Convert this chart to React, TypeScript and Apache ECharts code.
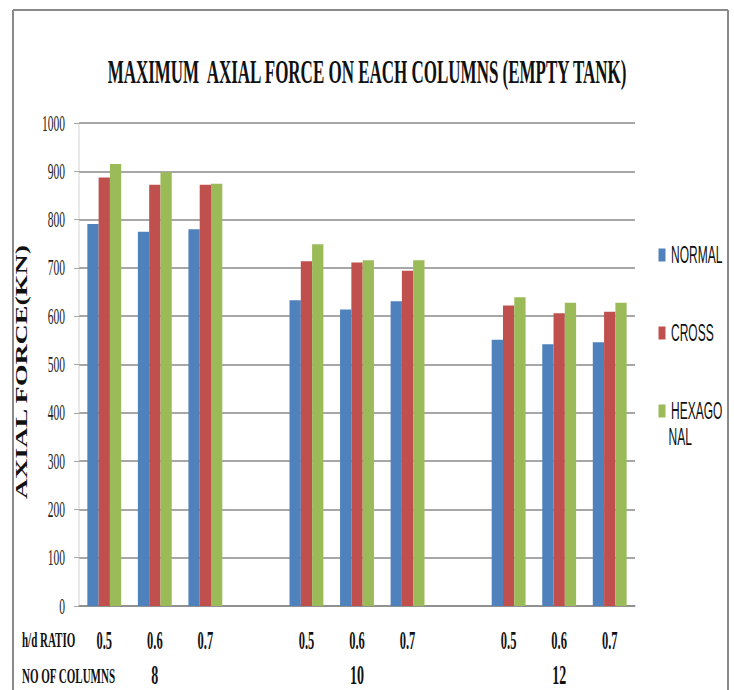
import React, { useEffect, useRef } from "react";
import * as echarts from "echarts";

// ---- data ----
const ratioLabels = ["0.5", "0.6", "0.7"];
const columnCounts = ["8", "10", "12"];
const normal = [791, 775, 780, 633, 614, 631, 551, 542, 546];
const cross = [887, 872, 872, 714, 711, 694, 622, 606, 609];
const hexagonal = [915, 898, 874, 749, 716, 716, 639, 628, 628];
const yTicks = { min: 0, max: 1000, step: 100 };

// The reference uses tall, condensed lettering: draw at double width and squeeze.
const S = 0.5;
const W = 734;
const H = 690;
const IW = W / S;
const X = (v: number) => v / S;

function withGaps<T>(values: T[], gap: T): T[] {
  const out: T[] = [];
  for (let g = 0; g < 3; g++) {
    out.push(...values.slice(g * 3, g * 3 + 3));
    if (g < 2) out.push(gap);
  }
  return out;
}

const slotRatio = withGaps(
  [...ratioLabels, ...ratioLabels, ...ratioLabels],
  ""
);
const slotCount = withGaps(
  columnCounts.flatMap((c) => ["", c, ""]),
  ""
);

const serif = "'Liberation Serif', 'Times New Roman', serif";
const sans = "'Liberation Sans', Arial, sans-serif";
const gridGray = "#8a8a8a";

export default function App() {
  const ref = useRef<HTMLDivElement>(null);
  useEffect(() => {
    if (!ref.current) return;
    const chart = echarts.init(ref.current, undefined, { renderer: "svg" });
    const barSeries = (name: string, data: number[], color: string) => ({
      name,
      type: "bar",
      xAxisIndex: 0,
      data: withGaps<number | null>(data, null),
      barGap: "0%",
      barCategoryGap: "33%",
      itemStyle: { color },
    });
    chart.setOption({
      animation: false,
      backgroundColor: "#ffffff",
      title: {
        text: "MAXIMUM  AXIAL FORCE ON EACH COLUMNS (EMPTY TANK)",
        left: "center",
        top: 50,
        textStyle: {
          fontFamily: serif,
          fontWeight: "bold",
          fontSize: 34,
          color: "#111",
        },
      },
      legend: {
        orient: "vertical",
        left: X(656),
        top: 237,
        itemWidth: 14,
        itemHeight: 13,
        itemGap: 52,
        icon: "rect",
        formatter: (n: string) => (n === "HEXAGONAL" ? "HEXAGO" : n),
        textStyle: {
          fontFamily: sans,
          fontSize: 24,
          lineHeight: 26,
          color: "#111",
          padding: [0, 0, 0, 6],
        },
        data: ["NORMAL", "CROSS", "HEXAGONAL"],
      },
      grid: { left: X(79), right: IW - X(635), top: 123, bottom: H - 606 },
      xAxis: [
        {
          type: "category",
          data: slotRatio,
          axisLine: { lineStyle: { color: gridGray, width: 1.5 } },
          axisTick: { show: false },
          axisLabel: {
            interval: 0,
            margin: 22,
            fontFamily: serif,
            fontWeight: "bold",
            fontSize: 25,
            color: "#111",
          },
        },
        {
          type: "category",
          data: slotCount,
          position: "bottom",
          offset: 40,
          axisLine: { show: false },
          axisTick: { show: false },
          axisLabel: {
            interval: 0,
            margin: 15,
            fontFamily: serif,
            fontWeight: "bold",
            fontSize: 28,
            lineHeight: 28,
            color: "#111",
          },
        },
      ],
      yAxis: {
        type: "value",
        min: yTicks.min,
        max: yTicks.max,
        interval: yTicks.step,
        axisLine: { show: true, lineStyle: { color: "#c4c4c4", width: 1.5 } },
        axisTick: { show: true, length: 10, lineStyle: { color: gridGray } },
        axisLabel: {
          margin: 28,
          fontFamily: serif,
          fontSize: 23,
          color: "#222",
          formatter: (v: number) => String(v),
        },
        splitLine: { lineStyle: { color: gridGray, width: 1.5 } },
      },
      series: [
        barSeries("NORMAL", normal, "#4F81BD"),
        barSeries("CROSS", cross, "#C0504D"),
        barSeries("HEXAGONAL", hexagonal, "#9BBB59"),
      ],
      graphic: [
        {
          type: "line",
          shape: { x1: X(13), y1: 10, x2: X(728), y2: 10 },
          style: { stroke: gridGray, lineWidth: 2 },
        },
        {
          type: "line",
          shape: { x1: X(13), y1: 10, x2: X(13), y2: H + 10 },
          style: { stroke: gridGray, lineWidth: 4 },
        },
        {
          type: "line",
          shape: { x1: X(728), y1: 10, x2: X(728), y2: H + 10 },
          style: { stroke: gridGray, lineWidth: 4 },
        },
        {
          type: "text",
          x: X(21.5),
          y: 372,
          rotation: Math.PI / 2,
          scaleX: 1.4,
          scaleY: 1.65,
          style: {
            text: "AXIAL FORCE(KN)",
            fontFamily: serif,
            fontWeight: "bold",
            fontSize: 20,
            fill: "#111",
            align: "center",
            verticalAlign: "middle",
            textAlign: "center",
            textVerticalAlign: "middle",
          },
        },
        {
          type: "text",
          x: X(668) + 1,
          y: 437,
          style: {
            text: "NAL",
            fontFamily: sans,
            fontSize: 24,
            fill: "#111",
            align: "left",
            verticalAlign: "middle",
            textAlign: "left",
            textVerticalAlign: "middle",
          },
        },
        {
          type: "text",
          x: X(22),
          y: 640,
          style: {
            text: "h/d RATIO",
            fontFamily: serif,
            fontWeight: "bold",
            fontSize: 22,
            fill: "#111",
            align: "left",
            verticalAlign: "middle",
            textAlign: "left",
            textVerticalAlign: "middle",
          },
        },
        {
          type: "text",
          x: X(22),
          y: 676,
          style: {
            text: "NO OF COLUMNS",
            fontFamily: serif,
            fontWeight: "bold",
            fontSize: 22,
            fill: "#111",
            align: "left",
            verticalAlign: "middle",
            textAlign: "left",
            textVerticalAlign: "middle",
          },
        },
      ],
    });
    return () => chart.dispose();
  }, []);

  return (
    <div
      style={{
        position: "absolute",
        left: 0,
        top: 0,
        width: W,
        height: H,
        overflow: "hidden",
        background: "#fff",
      }}
    >
      <div
        ref={ref}
        style={{
          width: IW,
          height: H,
          transform: `scaleX(${S})`,
          transformOrigin: "0 0",
        }}
      />
    </div>
  );
}
